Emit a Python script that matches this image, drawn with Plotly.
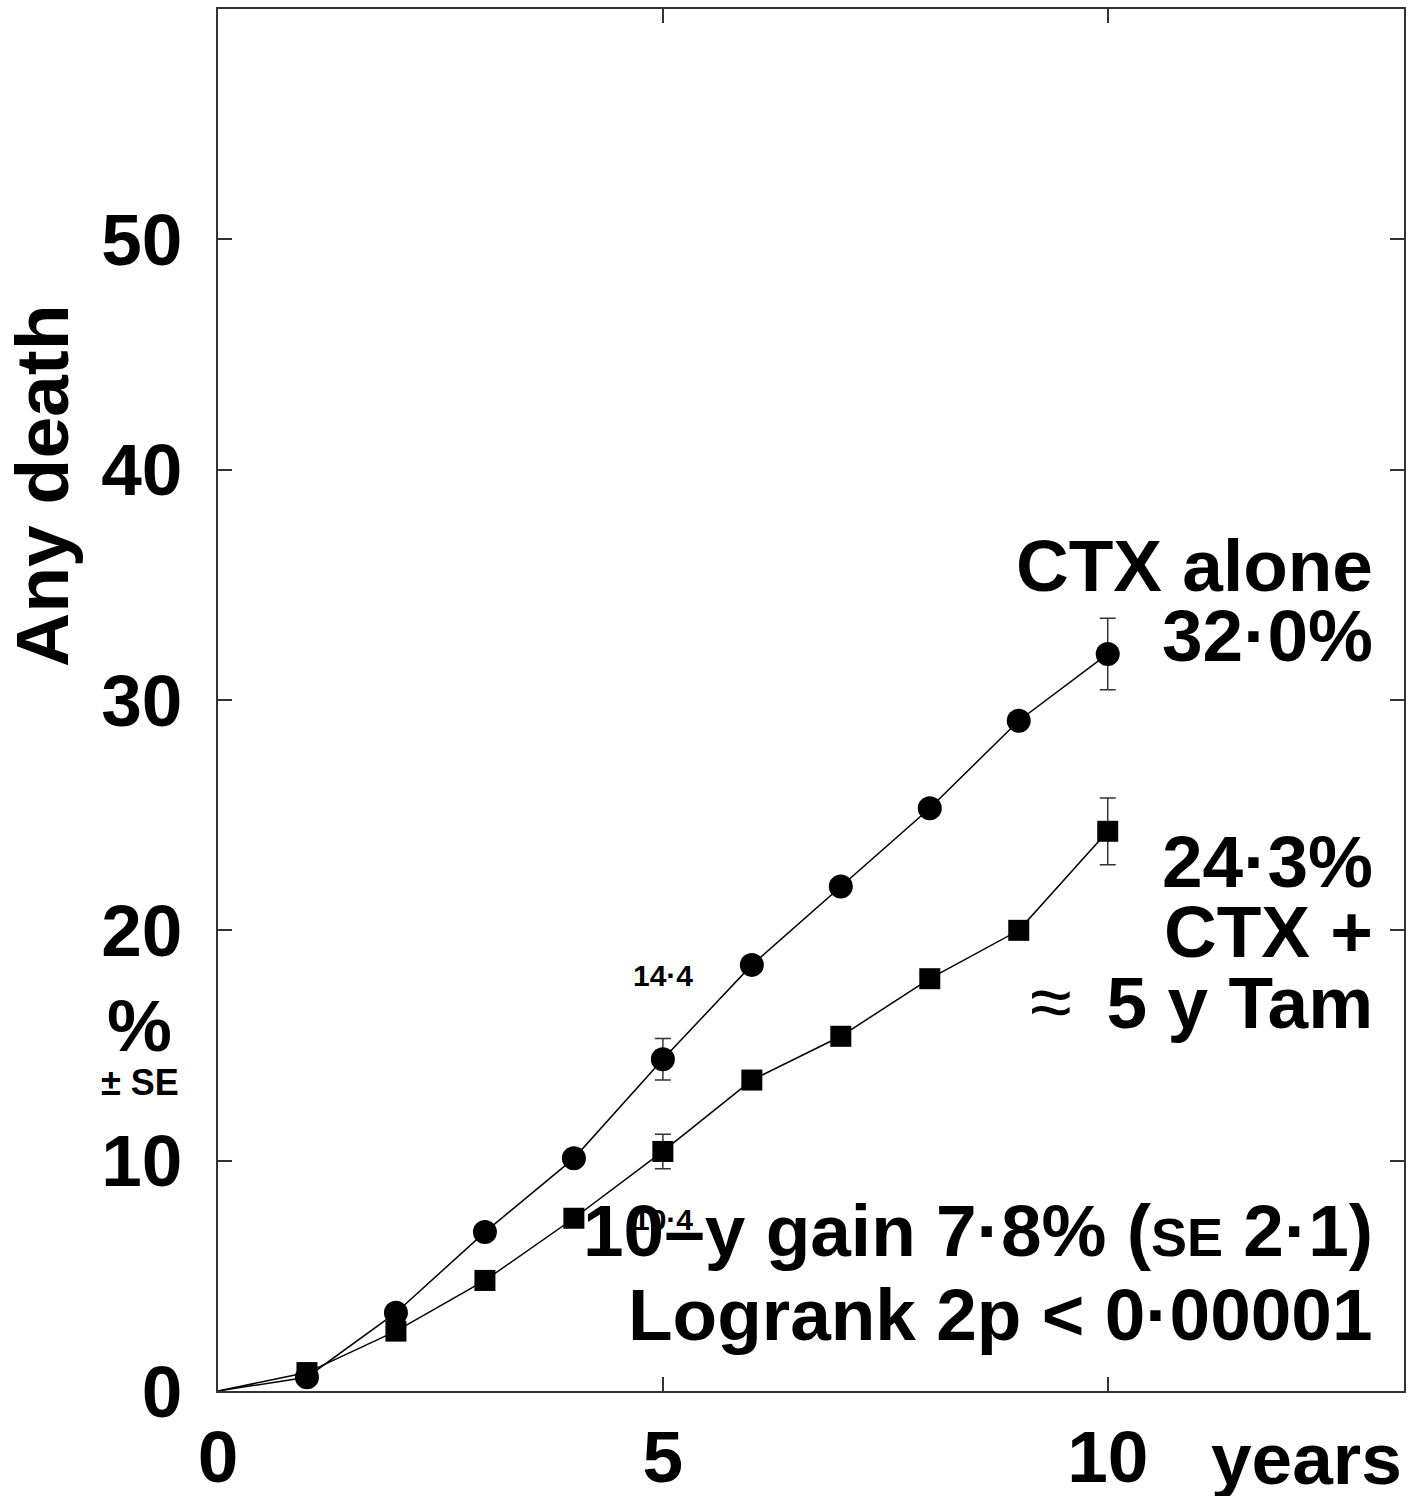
import plotly.graph_objects as go

# ---- data ----
years = [0, 1, 2, 3, 4, 5, 6, 7, 8, 9, 10]
ctx_alone = [0, 0.6, 3.4, 6.9, 10.1, 14.4, 18.5, 21.9, 25.3, 29.1, 32.0]
ctx_tam = [0, 0.8, 2.6, 4.8, 7.5, 10.4, 13.5, 15.4, 17.9, 20.0, 24.3]
se_years = [5, 10]
ctx_alone_se_val = [14.4, 32.0]
ctx_alone_se = [0.9, 1.55]
ctx_tam_se_val = [10.4, 24.3]
ctx_tam_se = [0.75, 1.45]
x_ticks = [0, 5, 10]
y_ticks = [0, 10, 20, 30, 40, 50]

FONT = "Liberation Sans, Arial, Helvetica, sans-serif"
BIG = 73

fig = go.Figure()

# lines from origin
for ys in (ctx_alone, ctx_tam):
    fig.add_trace(go.Scatter(x=years, y=ys, mode="lines",
                             line=dict(color="black", width=1.5),
                             showlegend=False, hoverinfo="skip"))

# error bars
for vals, errs in ((ctx_alone_se_val, ctx_alone_se), (ctx_tam_se_val, ctx_tam_se)):
    fig.add_trace(go.Scatter(x=se_years, y=vals, mode="markers",
                             marker=dict(size=1, color="rgba(0,0,0,0)"),
                             error_y=dict(type="data", array=errs, visible=True,
                                          color="#333333", thickness=1.5, width=8),
                             showlegend=False, hoverinfo="skip"))

# markers
fig.add_trace(go.Scatter(x=years[1:], y=ctx_alone[1:], mode="markers",
                         marker=dict(symbol="circle", size=24, color="black"),
                         showlegend=False))
fig.add_trace(go.Scatter(x=years[1:], y=ctx_tam[1:], mode="markers",
                         marker=dict(symbol="square", size=21, color="black"),
                         showlegend=False))


def ann(text, x, y, xanchor="right", size=BIG, xref="x", yref="y", angle=0):
    fig.add_annotation(text=text, x=x, y=y, xref=xref, yref=yref,
                       xanchor=xanchor, yanchor="middle", showarrow=False,
                       textangle=angle,
                       font=dict(family=FONT, size=size, color="black", weight="bold"))

ann("CTX alone", 13, 35.86)
ann("32·0%", 13, 32.82)
ann("24·3%", 13, 22.97)
ann("CTX +", 13, 19.93)
ann("<span style='font-weight:normal;font-size:76px'>≈</span> &#8201;5 y Tam", 13, 16.89)
ann("10–y gain 7·8% (<span style='font-size:54px'>SE</span> 2·1)", 13, 6.99)
ann("Logrank 2p &lt; 0·00001", 13, 3.3)
ann("14·4", 5, 18.06, xanchor="center", size=30)
ann("10·4", 5, 7.46, xanchor="center", size=30)
ann("%", -0.0658, 15.89, xanchor="center", xref="paper")
ann("± SE", -0.0658, 13.41, xanchor="center", size=36, xref="paper")
ann("Any death", -0.1484, 0.6556, xanchor="center", size=75, xref="paper", yref="paper", angle=-90)
ann("years", 12.23, -0.0485, xanchor="center", yref="paper")

axis_common = dict(showgrid=False, zeroline=False, showline=True, linewidth=2,
                   linecolor="#333333", mirror="ticks", ticks="inside", ticklen=14,
                   tickwidth=1.5, tickcolor="#333333", automargin=False,
                   tickfont=dict(family=FONT, size=BIG, color="black", weight="bold"))

fig.update_layout(
    width=1417, height=1496,
    margin=dict(l=218, r=13, t=9, b=105),
    paper_bgcolor="white", plot_bgcolor="white",
    xaxis=dict(range=[0, 13.33], tickvals=x_ticks, ticktext=[str(v) for v in x_ticks],
               ticklabelstandoff=1, **axis_common),
    yaxis=dict(range=[0, 60], tickvals=y_ticks, ticktext=[str(v) for v in y_ticks],
               ticklabelstandoff=19, **axis_common),
)

# remove the default 8px page margin so the figure fills the window exactly
fig.write_html("out.html", config={"displayModeBar": False},
               post_script="document.body.style.margin='0';")
